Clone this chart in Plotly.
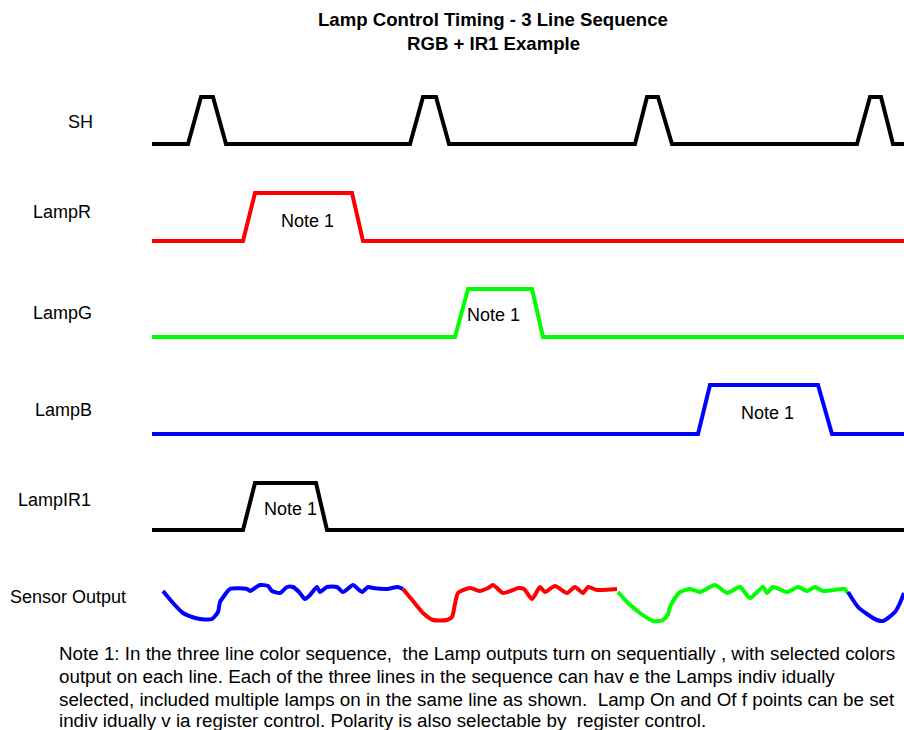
import plotly.graph_objects as go

# signal edges (x = time position, y = level in picture units)
sh_x = [152, 188, 201, 213, 226, 410, 423, 436, 449, 635, 647, 658, 672, 857, 870, 881, 893, 904]
sh_y = [144, 144, 97, 97, 144, 144, 97, 97, 144, 144, 97, 97, 144, 144, 97, 97, 144, 144]

lampr_x = [152, 243, 255, 352, 363, 904]
lampr_y = [241, 241, 193, 193, 241, 241]

lampg_x = [152, 455, 468, 532, 543, 904]
lampg_y = [337, 337, 289, 289, 337, 337]

lampb_x = [152, 698, 710, 818, 832, 904]
lampb_y = [434, 434, 385, 385, 434, 434]

lampir_x = [152, 243, 255, 316, 327, 904]
lampir_y = [530, 530, 483, 483, 530, 530]

# sensor output, one segment per lamp colour
sens_b1_x = [163, 173, 183, 192, 200, 212, 218, 220, 224, 230, 247, 250, 255, 260, 268, 272, 280, 287, 293,
             299, 305, 310, 317, 320, 327, 337, 343, 353, 358, 362, 368, 373, 387, 398, 403]
sens_b1_y = [591, 603, 613, 617, 619, 619, 612, 602, 596, 589, 589, 591, 588, 585, 586, 591, 593, 587, 587,
             592, 599, 595, 587, 592, 587, 587, 592, 585, 589, 592, 587, 588, 589, 587, 589]
sens_r_x = [403, 413, 423, 433, 447, 452, 455, 458, 470, 480, 488, 493, 503, 513, 518, 524, 532, 540, 545,
            555, 567, 575, 583, 588, 597, 617]
sens_r_y = [589, 601, 613, 620, 620, 617, 604, 593, 588, 591, 588, 585, 593, 590, 588, 589, 599, 587, 592,
            586, 593, 587, 593, 587, 590, 589]
sens_g_x = [618, 628, 640, 653, 663, 668, 670, 675, 680, 690, 700, 715, 727, 740, 750, 763, 767, 773, 787,
            798, 807, 815, 823, 845, 847]
sens_g_y = [592, 603, 613, 621, 620, 614, 607, 598, 592, 589, 592, 585, 593, 587, 598, 587, 593, 587, 592,
            587, 591, 587, 591, 589, 593]
sens_b2_x = [848, 858, 867, 877, 883, 895, 900, 904]
sens_b2_y = [592, 607, 614, 620, 621, 612, 603, 593]

row_labels = ["SH", "LampR", "LampG", "LampB", "LampIR1", "Sensor Output"]
label_x = [80, 62, 62, 63, 54, 68]
label_y = [122, 212, 313, 410, 500, 597]

note_label_x = [307, 493, 767, 290]
note_label_y = [221, 315, 413, 509]

note_lines = [
    "Note 1: In the three line color sequence,  the Lamp outputs turn on sequentially , with selected colors",
    "output on each line. Each of the three lines in the sequence can hav e the Lamps indiv idually",
    "selected, included multiple lamps on in the same line as shown.  Lamp On and Of f points can be set",
    "indiv idually v ia register control. Polarity is also selectable by  register control.",
]
note_line_y = [653, 676, 699, 720]

fig = go.Figure()

signals = [
    (sh_x, sh_y, "black"),
    (lampr_x, lampr_y, "#ff0000"),
    (lampg_x, lampg_y, "#00ff00"),
    (lampb_x, lampb_y, "#0000ff"),
    (lampir_x, lampir_y, "black"),
]
for xs, ys, col in signals:
    fig.add_trace(go.Scatter(x=xs, y=ys, mode='lines', line=dict(color=col, width=4),
                             hoverinfo='skip', showlegend=False))

sensor = [
    (sens_b1_x, sens_b1_y, "#0000ff"),
    (sens_r_x, sens_r_y, "#ff0000"),
    (sens_g_x, sens_g_y, "#00ff00"),
    (sens_b2_x, sens_b2_y, "#0000ff"),
]
for xs, ys, col in sensor:
    fig.add_trace(go.Scatter(x=xs, y=ys, mode='lines',
                             line=dict(color=col, width=4, shape='spline', smoothing=0.6),
                             hoverinfo='skip', showlegend=False))

label_font = dict(family="Liberation Sans, Arial, sans-serif", size=18, color="black")
body_font = dict(family="Liberation Sans, Arial, sans-serif", size=18.8, color="black")
title_font = dict(family="Liberation Sans, Arial, sans-serif", size=18.6, color="black")

for lab, lx, ly in zip(row_labels, label_x, label_y):
    fig.add_annotation(x=lx, y=ly, text=lab, showarrow=False, xanchor='center', yanchor='middle',
                       font=label_font)

for nx, ny in zip(note_label_x, note_label_y):
    fig.add_annotation(x=nx, y=ny, text="Note 1", showarrow=False, xanchor='center', yanchor='middle',
                       font=label_font)

for line, ny in zip(note_lines, note_line_y):
    fig.add_annotation(x=57, y=ny, text=line.replace("  ", "&nbsp; "), showarrow=False,
                       xanchor='left', yanchor='middle', font=body_font)

fig.add_annotation(x=493, y=19, text="<b>Lamp Control Timing - 3 Line Sequence</b>", showarrow=False,
                   xanchor='center', yanchor='middle', font=title_font)
fig.add_annotation(x=493, y=43, text="<b>RGB + IR1 Example</b>", showarrow=False,
                   xanchor='center', yanchor='middle', font=title_font)

fig.update_layout(
    width=904, height=730,
    margin=dict(l=0, r=0, t=0, b=0),
    plot_bgcolor='white', paper_bgcolor='white',
    xaxis=dict(range=[0, 904], visible=False, fixedrange=True),
    yaxis=dict(range=[730, 0], visible=False, fixedrange=True),
)

# drop the default body margin so the figure sits at the page origin
fig.write_html("out.html", config={'displayModeBar': False},
               post_script="document.body.style.margin='0';document.body.style.overflow='hidden';")
